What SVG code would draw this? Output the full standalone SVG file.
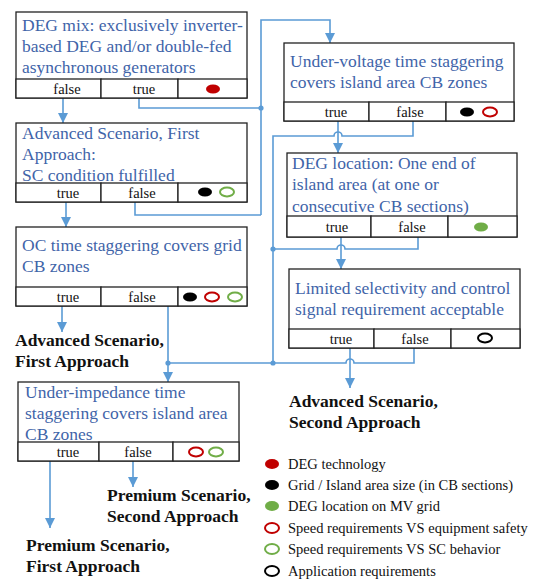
<svg xmlns="http://www.w3.org/2000/svg" width="534" height="579" viewBox="0 0 534 579">
  <style>
    .box { fill: #ffffff; stroke: #222222; stroke-width: 1.3; }
    .row { fill: #ffffff; stroke: #222222; stroke-width: 1.3; }
    .q { font-family: "Liberation Serif", "Times New Roman", serif; font-size: 17.5px; fill: #3f64a9; }
    .c { font-family: "Liberation Serif", "Times New Roman", serif; font-size: 14.5px; fill: #111111; text-anchor: middle; }
    .out { font-family: "Liberation Serif", "Times New Roman", serif; font-size: 17.5px; font-weight: bold; fill: #111111; }
    .leg { font-family: "Liberation Serif", "Times New Roman", serif; font-size: 14.5px; fill: #111111; }
    .wire { fill: none; stroke: #5b9bd5; stroke-width: 1.6; }
    .arr { marker-end: url(#head); }
    .dot { fill: #5b9bd5; }
    .red { fill: #c00000; }
    .blk { fill: #000000; }
    .grn { fill: #70ad47; }
    .ored { fill: none; stroke: #c00000; stroke-width: 2; }
    .ogrn { fill: none; stroke: #70ad47; stroke-width: 2; }
    .oblk { fill: none; stroke: #000000; stroke-width: 2; }
  </style>
  <defs>
    <marker id="head" viewBox="0 0 10 10" refX="10" refY="5" markerWidth="10" markerHeight="10" markerUnits="userSpaceOnUse" orient="auto">
      <path d="M0,0 L10,5 L0,10 z" fill="#5b9bd5"/>
    </marker>
  </defs>

  <!-- connectors -->
  <g id="connectors">
    <!-- DEG mix -->
    <path class="wire arr" d="M63,98 V123"/>
    <path class="wire" d="M139,98 V108 H261"/>
    <path class="wire arr" d="M261,215 V20 H330 V43"/>
    <!-- Advanced Scenario, first approach check -->
    <path class="wire arr" d="M66,202 V227"/>
    <path class="wire" d="M135,202 V215 H261"/>
    <!-- OC time staggering -->
    <path class="wire arr" d="M62,306 V332"/>
    <path class="wire arr" d="M168,306 V382"/>
    <!-- Under-voltage -->
    <path class="wire arr" d="M338,121 V153"/>
    <path class="wire" d="M413,121 V136 H342 A4,4 0 0 0 334,136 H273 V363"/>
    <!-- DEG location -->
    <path class="wire arr" d="M341,237 V269"/>
    <path class="wire" d="M418,237 V249 H345 A4,4 0 0 0 337,249 H273"/>
    <!-- Limited selectivity -->
    <path class="wire arr" d="M350,348 V388"/>
    <path class="wire" d="M414,348 V363 H354 A4,4 0 0 0 346,363 H168"/>
    <!-- Under-impedance -->
    <path class="wire arr" d="M50,461 V528"/>
    <path class="wire arr" d="M133,461 V487"/>
    <!-- junction dots -->
    <circle class="dot" cx="261" cy="108" r="2.6"/>
    <circle class="dot" cx="273" cy="249" r="2.6"/>
    <circle class="dot" cx="273" cy="363" r="2.6"/>
    <circle class="dot" cx="168" cy="363" r="2.6"/>
  </g>

  <!-- DEG mix -->
  <g id="deg-mix">
    <rect class="box" x="16" y="12" width="231" height="86"/>
    <text class="q" x="22" y="31">DEG mix: exclusively inverter-</text>
    <text class="q" x="22" y="52">based DEG and/or double-fed</text>
    <text class="q" x="22" y="73">asynchronous generators</text>
    <rect class="row" x="16" y="79" width="85" height="19"/>
    <rect class="row" x="101" y="79" width="77" height="19"/>
    <rect class="row" x="178" y="79" width="69" height="19"/>
    <text class="c" x="67" y="93.5">false</text>
    <text class="c" x="144" y="93.5">true</text>
    <ellipse class="red" cx="213" cy="89" rx="7" ry="4.5"/>
  </g>

  <!-- Advanced Scenario, First Approach: SC condition -->
  <g id="sc-condition">
    <rect class="box" x="16" y="123" width="231" height="79"/>
    <text class="q" x="22" y="139">Advanced Scenario, First</text>
    <text class="q" x="22" y="160">Approach:</text>
    <text class="q" x="22" y="181">SC condition fulfilled</text>
    <rect class="row" x="16" y="183" width="85" height="19"/>
    <rect class="row" x="101" y="183" width="77" height="19"/>
    <rect class="row" x="178" y="183" width="69" height="19"/>
    <text class="c" x="68" y="197.5">true</text>
    <text class="c" x="142" y="197.5">false</text>
    <ellipse class="blk" cx="205" cy="192" rx="7" ry="4.5"/>
    <ellipse class="ogrn" cx="227" cy="192" rx="7" ry="4.5"/>
  </g>

  <!-- OC time staggering -->
  <g id="oc-staggering">
    <rect class="box" x="16" y="227" width="231" height="79"/>
    <text class="q" x="22" y="251">OC time staggering covers grid</text>
    <text class="q" x="22" y="272">CB zones</text>
    <rect class="row" x="16" y="287" width="85" height="19"/>
    <rect class="row" x="101" y="287" width="77" height="19"/>
    <rect class="row" x="178" y="287" width="69" height="19"/>
    <text class="c" x="68" y="301.5">true</text>
    <text class="c" x="142" y="301.5">false</text>
    <ellipse class="blk" cx="190" cy="297" rx="7" ry="4.5"/>
    <ellipse class="ored" cx="212" cy="297" rx="7" ry="4.5"/>
    <ellipse class="ogrn" cx="235" cy="297" rx="7" ry="4.5"/>
  </g>

  <!-- Under-voltage time staggering -->
  <g id="uv-staggering">
    <rect class="box" x="284" y="43" width="230" height="78"/>
    <text class="q" x="290" y="67">Under-voltage time staggering</text>
    <text class="q" x="290" y="88">covers island area CB zones</text>
    <rect class="row" x="284" y="102" width="85" height="19"/>
    <rect class="row" x="369" y="102" width="77" height="19"/>
    <rect class="row" x="446" y="102" width="68" height="19"/>
    <text class="c" x="336" y="116.5">true</text>
    <text class="c" x="410" y="116.5">false</text>
    <ellipse class="blk" cx="467" cy="112" rx="7" ry="4.5"/>
    <ellipse class="ored" cx="490" cy="112" rx="7" ry="4.5"/>
  </g>

  <!-- DEG location -->
  <g id="deg-location">
    <rect class="box" x="287" y="153" width="230" height="84"/>
    <text class="q" x="292" y="169">DEG location: One end of</text>
    <text class="q" x="292" y="190">island area (at one or</text>
    <text class="q" x="292" y="212">consecutive CB sections)</text>
    <rect class="row" x="287" y="216" width="84" height="21"/>
    <rect class="row" x="371" y="216" width="77" height="21"/>
    <rect class="row" x="448" y="216" width="69" height="21"/>
    <text class="c" x="337" y="231.5">true</text>
    <text class="c" x="412" y="231.5">false</text>
    <ellipse class="grn" cx="481" cy="227" rx="7" ry="4.5"/>
  </g>

  <!-- Limited selectivity -->
  <g id="limited-selectivity">
    <rect class="box" x="289" y="269" width="231" height="79"/>
    <text class="q" x="295" y="294">Limited selectivity and control</text>
    <text class="q" x="295" y="315">signal requirement acceptable</text>
    <rect class="row" x="289" y="329" width="85" height="19"/>
    <rect class="row" x="374" y="329" width="77" height="19"/>
    <rect class="row" x="451" y="329" width="69" height="19"/>
    <text class="c" x="341" y="343.5">true</text>
    <text class="c" x="415" y="343.5">false</text>
    <ellipse class="oblk" cx="485" cy="338" rx="7" ry="4.5"/>
  </g>

  <!-- Under-impedance time staggering -->
  <g id="ui-staggering">
    <rect class="box" x="18" y="382" width="221" height="79"/>
    <text class="q" x="25" y="398">Under-impedance time</text>
    <text class="q" x="25" y="419">staggering covers island area</text>
    <text class="q" x="25" y="440">CB zones</text>
    <rect class="row" x="18" y="442" width="81" height="19"/>
    <rect class="row" x="99" y="442" width="74" height="19"/>
    <rect class="row" x="173" y="442" width="66" height="19"/>
    <text class="c" x="68" y="456.5">true</text>
    <text class="c" x="138" y="456.5">false</text>
    <ellipse class="ored" cx="196" cy="452" rx="7" ry="4.5"/>
    <ellipse class="ogrn" cx="216" cy="452" rx="7" ry="4.5"/>
  </g>

  <!-- outcomes -->
  <g id="adv-first">
    <text class="out" x="15" y="346">Advanced Scenario,</text>
    <text class="out" x="15" y="367">First Approach</text>
  </g>
  <g id="adv-second">
    <text class="out" x="289" y="407">Advanced Scenario,</text>
    <text class="out" x="289" y="428">Second Approach</text>
  </g>
  <g id="prem-second">
    <text class="out" x="107" y="501">Premium Scenario,</text>
    <text class="out" x="107" y="522">Second Approach</text>
  </g>
  <g id="prem-first">
    <text class="out" x="26" y="551">Premium Scenario,</text>
    <text class="out" x="26" y="572">First Approach</text>
  </g>

  <!-- legend -->
  <g id="legend">
    <ellipse class="red" cx="272" cy="464" rx="7" ry="5"/>
    <text class="leg" x="288" y="469">DEG technology</text>
    <ellipse class="blk" cx="272" cy="485" rx="7" ry="5"/>
    <text class="leg" x="288" y="490">Grid / Island area size (in CB sections)</text>
    <ellipse class="grn" cx="272" cy="506" rx="7" ry="5"/>
    <text class="leg" x="288" y="511">DEG location on MV grid</text>
    <ellipse class="ored" cx="272" cy="528" rx="7" ry="5"/>
    <text class="leg" x="288" y="533">Speed requirements VS equipment safety</text>
    <ellipse class="ogrn" cx="272" cy="549" rx="7" ry="5"/>
    <text class="leg" x="288" y="554">Speed requirements VS SC behavior</text>
    <ellipse class="oblk" cx="272" cy="571" rx="7" ry="5"/>
    <text class="leg" x="288" y="576">Application requirements</text>
  </g>
</svg>
